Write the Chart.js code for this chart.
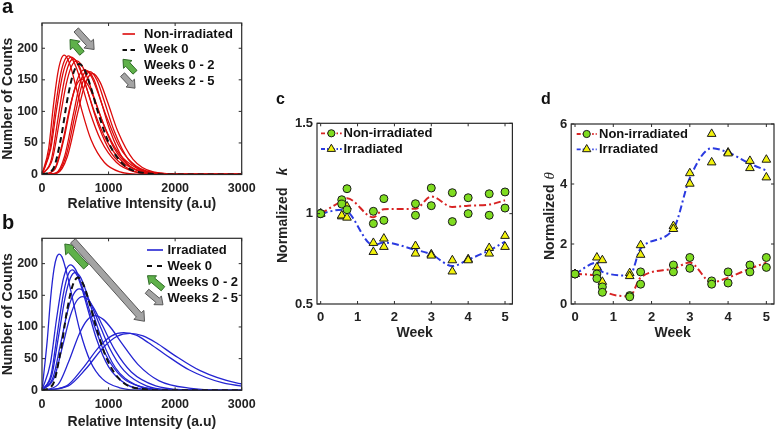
<!DOCTYPE html>
<html>
<head>
<meta charset="utf-8">
<title>Intensity distributions and normalized gamma parameters</title>
<script src="https://cdn.jsdelivr.net/npm/chart.js@4.4.1/dist/chart.umd.min.js"></script>
<style>
  html, body { margin: 0; padding: 0; background: #fff; }
  body { position: relative; width: 780px; height: 432px; overflow: hidden;
         font-family: "Liberation Sans", Arial, sans-serif; }
  canvas { position: absolute; display: block; }
  .tag { position: absolute; font-weight: bold; line-height: 1; color: #111; }
</style>
</head>
<body>
<canvas id="chartA" width="262" height="215" style="left:0;top:0"></canvas>
<canvas id="chartB" width="262" height="217" style="left:0;top:215px"></canvas>
<canvas id="chartC" width="260" height="262" style="left:260px;top:80px"></canvas>
<canvas id="chartD" width="260" height="262" style="left:520px;top:80px"></canvas>
<div class="tag" style="left:2px;top:-4px;font-size:20px">a</div>
<div class="tag" style="left:2px;top:212px;font-size:20px">b</div>
<div class="tag" style="left:276px;top:91px;font-size:16px">c</div>
<div class="tag" style="left:541px;top:91px;font-size:16px">d</div>
<script>
// ---------------------------
// Data
// ---------------------------

// panel a: non-irradiated histograms, [relative intensity, counts]
const nonIrrCurves = [
  [[0,0],[101,42],[168,106],[235,159],[285,182],[335,189],[385,183],[436,169],[503,142],[603,100],[737,55],[938,19],[1173,4],[1508,0],[3000,0]],
  [[0,0],[120,41],[200,105],[280,159],[340,181],[400,188],[460,182],[520,168],[600,142],[720,99],[880,55],[1120,19],[1400,4],[1800,0],[3000,0]],
  [[0,0],[132,41],[220,104],[308,157],[374,179],[440,186],[506,180],[572,166],[660,140],[792,98],[968,54],[1232,18],[1540,4],[1980,0],[3000,0]],
  [[0,0],[141,24],[235,85],[329,146],[400,174],[470,183],[541,176],[611,157],[705,125],[846,78],[1034,35],[1316,8],[1645,1],[2115,0],[3000,0]],
  [[0,0],[156,24],[260,83],[364,143],[442,171],[520,180],[598,173],[676,155],[780,123],[936,77],[1144,35],[1456,8],[1820,1],[2340,0],[3000,0]],
  [[0,0],[180,7],[300,47],[420,107],[510,140],[600,151],[690,142],[780,121],[900,86],[1080,42],[1320,13],[1680,1],[2100,0],[3000,0]],
  [[0,0],[192,8],[320,52],[448,118],[544,154],[640,166],[736,156],[832,132],[960,94],[1152,46],[1408,14],[1792,2],[2240,0],[3000,0]],
  [[0,0],[204,2],[340,29],[476,98],[578,147],[680,164],[782,150],[884,117],[1020,70],[1224,24],[1496,4],[1904,0],[3000,0]],
  [[0,0],[216,2],[360,29],[504,98],[612,146],[720,163],[828,149],[936,116],[1080,70],[1296,24],[1584,4],[2016,0],[3000,0]],
  [[0,0],[228,2],[380,28],[532,96],[646,143],[760,160],[874,146],[988,114],[1140,68],[1368,24],[1672,4],[2128,0],[3000,0]]
];
const nonIrrWeek0 = [[0,0],[168,9],[280,55],[392,125],[476,162],[560,175],[644,165],[728,140],[840,99],[1008,49],[1232,15],[1568,2],[1960,0],[3000,0]];

// panel b: irradiated histograms
const irrCurves = [
  [[0,0],[78,78],[130,146],[181,192],[220,210],[259,215],[298,211],[337,199],[389,178],[466,141],[570,94],[725,46],[907,18],[1166,4],[1550,0],[3000,0]],
  [[0,0],[129,44],[216,111],[302,167],[366,191],[431,198],[496,192],[560,177],[647,149],[776,105],[948,58],[1207,20],[1509,5],[1940,0],[3000,0]],
  [[0,0],[137,25],[228,88],[319,151],[387,181],[455,190],[523,182],[592,163],[683,130],[819,81],[1001,37],[1274,9],[1593,1],[2048,0],[3000,0]],
  [[0,0],[150,25],[250,86],[350,148],[425,177],[500,186],[575,179],[650,160],[750,127],[900,80],[1100,36],[1400,9],[1750,1],[2250,0],[3000,0]],
  [[0,0],[168,21],[280,74],[392,128],[476,152],[560,160],[644,154],[728,138],[840,110],[1008,68],[1232,31],[1568,7],[1960,1],[2520,0],[3000,0]],
  [[0,0],[183,20],[305,68],[427,118],[519,141],[610,148],[702,142],[793,127],[915,101],[1098,63],[1342,29],[1708,7],[2135,1],[2745,0],[3000,0]],
  [[0,0],[240,9],[400,45],[560,89],[680,111],[800,118],[920,112],[1040,98],[1200,74],[1440,41],[1760,15],[2240,3],[2800,0],[3000,0]],
  [[0,0],[369,7],[615,35],[861,69],[1046,86],[1230,91],[1415,87],[1599,75],[1845,57],[2214,32],[2706,12],[3444,2]],
  [[0,0],[396,7],[660,34],[924,68],[1122,85],[1320,90],[1518,86],[1716,75],[1980,56],[2376,31],[2904,12],[3696,2]]
];
const irrWeek0 = [[0,0],[162,9],[270,56],[378,127],[459,165],[540,178],[621,167],[702,142],[810,101],[972,50],[1188,15],[1512,2],[1890,0],[3000,0]];

// panels c, d: two samples per time point plus the fitted trend
const weeks = [0, 0.571, 0.714, 1.429, 1.714, 2.571, 3, 3.571, 4, 4.571, 5];

const kNonA  = [1.0, 1.077, 1.138, 1.013, 1.083, 1.055, 1.142, 1.116, 1.088, 1.110, 1.120];
const kNonB  = [1.0, 1.053, 1.022, 0.945, 0.963, 0.991, 1.044, 0.956, 1.000, 0.991, 1.031];
const kIrrA  = [1.0, 0.985, 1.040, 0.838, 0.862, 0.821, 0.775, 0.742, 0.748, 0.810, 0.877];
const kIrrB  = [1.0, 0.990, 0.978, 0.788, 0.816, 0.779, 0.768, 0.680, 0.742, 0.779, 0.816];
const kNonTrend = [1.0, 1.07, 1.085, 0.98, 1.025, 1.027, 1.095, 1.037, 1.044, 1.05, 1.074];
const kIrrTrend = [1.0, 1.022, 1.015, 0.825, 0.84, 0.80, 0.775, 0.71, 0.745, 0.797, 0.845];

const thNonA = [1.0, 1.00, 0.57, 0.28, 1.07, 1.30, 1.55, 0.77, 1.07, 1.30, 1.55];
const thNonB = [1.0, 0.85, 0.39, 0.24, 0.66, 1.07, 1.19, 0.66, 0.70, 1.07, 1.22];
const thIrrA = [1.0, 1.55, 1.46, 1.03, 1.96, 2.60, 4.36, 5.67, 5.05, 4.77, 4.81];
const thIrrB = [1.0, 1.22, 0.74, 0.93, 1.64, 2.50, 4.01, 4.72, 5.02, 4.53, 4.22];
const thNonTrend = [1.0, 0.93, 0.48, 0.26, 0.88, 1.18, 1.38, 0.72, 0.88, 1.18, 1.38];
const thIrrTrend = [1.0, 1.38, 1.07, 0.95, 1.85, 2.50, 4.20, 5.19, 5.05, 4.68, 4.45];

// tick values
const intensityTicks = [0, 1000, 2000, 3000];
const countTicks = [0, 50, 100, 150, 200];
const weekTicks = [0, 1, 2, 3, 4, 5];
const kTicks = [0.5, 1, 1.5];
const thetaTicks = [0, 2, 4, 6];

// ---------------------------
// Styling
// ---------------------------
const FONT = '"Liberation Sans", Arial, Helvetica, sans-serif';
const INK = '#222222';
const RED = '#dc0a0a';
const BLUE = '#2424d2';
const TREND_RED = '#d82424';
const TREND_BLUE = '#2a3ae0';
const DOT_GREEN = '#7fdc20';
const TRI_YELLOW = '#f2f20c';
const GREEN_FILL = '#5fb14a', GREEN_EDGE = '#2f6b27';
const GRAY_FILL = '#a4a4a4', GRAY_EDGE = '#585858';
const DASH_DOT = [7, 3, 2, 3];

Chart.defaults.font.family = FONT;
Chart.defaults.color = INK;

// block arrow (shaft + triangular head)
function blockArrow(ctx, x1, y1, x2, y2, shaft, headW, headL, fill, stroke) {
  const dx = x2 - x1, dy = y2 - y1, len = Math.hypot(dx, dy);
  const ux = dx / len, uy = dy / len, nx = -uy, ny = ux;
  const bx = x2 - ux * headL, by = y2 - uy * headL;
  const s = shaft / 2, h = headW / 2;
  ctx.beginPath();
  ctx.moveTo(x1 + nx * s, y1 + ny * s);
  ctx.lineTo(bx + nx * s, by + ny * s);
  ctx.lineTo(bx + nx * h, by + ny * h);
  ctx.lineTo(x2, y2);
  ctx.lineTo(bx - nx * h, by - ny * h);
  ctx.lineTo(bx - nx * s, by - ny * s);
  ctx.lineTo(x1 - nx * s, y1 - ny * s);
  ctx.closePath();
  ctx.setLineDash([]);
  ctx.fillStyle = fill;
  ctx.fill();
  ctx.strokeStyle = stroke;
  ctx.lineWidth = 1;
  ctx.stroke();
}

function marker(ctx, kind, x, y) {
  ctx.setLineDash([]);
  ctx.lineWidth = 1;
  ctx.strokeStyle = '#1a1a1a';
  ctx.beginPath();
  if (kind === 'circle') {
    ctx.fillStyle = DOT_GREEN;
    ctx.arc(x, y, 3.6, 0, Math.PI * 2);
  } else {
    ctx.fillStyle = TRI_YELLOW;
    const r = 4.8;
    ctx.moveTo(x, y - r);
    ctx.lineTo(x + r * 0.866, y + r * 0.5);
    ctx.lineTo(x - r * 0.866, y + r * 0.5);
    ctx.closePath();
  }
  ctx.fill();
  ctx.stroke();
}

// box, inward ticks, legend, arrows, custom y title
const panelExtras = {
  id: 'panelExtras',
  afterDatasetsDraw(chart, args, opts) {
    const { ctx, chartArea: ca, scales } = chart;
    const xs = scales.x, ys = scales.y;
    ctx.save();

    (opts.arrows || []).forEach(a => {
      blockArrow(ctx,
        xs.getPixelForValue(a.from[0]), ys.getPixelForValue(a.from[1]),
        xs.getPixelForValue(a.to[0]), ys.getPixelForValue(a.to[1]),
        a.shaft, a.head, a.headLen, a.fill, a.stroke);
    });

    // frame + ticks pointing inward (matlab style)
    ctx.setLineDash([]);
    ctx.strokeStyle = '#2a2a2a';
    ctx.lineWidth = 1.2;
    ctx.strokeRect(ca.left, ca.top, ca.right - ca.left, ca.bottom - ca.top);
    ctx.lineWidth = 1;
    ctx.beginPath();
    xs.ticks.forEach(t => {
      const px = xs.getPixelForValue(t.value);
      ctx.moveTo(px, ca.bottom); ctx.lineTo(px, ca.bottom - 3);
      ctx.moveTo(px, ca.top); ctx.lineTo(px, ca.top + 3);
    });
    ys.ticks.forEach(t => {
      const py = ys.getPixelForValue(t.value);
      ctx.moveTo(ca.left, py); ctx.lineTo(ca.left + 3, py);
      ctx.moveTo(ca.right, py); ctx.lineTo(ca.right - 3, py);
    });
    ctx.stroke();

    const lg = opts.legend;
    if (lg) {
      lg.items.forEach((it, i) => {
        const y = lg.y0 + i * lg.dy;
        if (it.kind === 'line' || it.kind === 'marker') {
          ctx.beginPath();
          ctx.setLineDash(it.dash || []);
          ctx.strokeStyle = it.color;
          ctx.lineWidth = it.width;
          ctx.moveTo(lg.x0, y);
          ctx.lineTo(lg.x1, y);
          ctx.stroke();
          if (it.kind === 'marker') marker(ctx, it.marker, (lg.x0 + lg.x1) / 2, y);
        } else if (it.kind === 'arrowUp') {
          blockArrow(ctx, lg.x1, y + 6.5, lg.x0 + 0.5, y - 6.5, 5.5, 11.5, 7, GREEN_FILL, GREEN_EDGE);
        } else if (it.kind === 'arrowDown') {
          blockArrow(ctx, lg.x0, y - 7, lg.x1, y + 6.5, 5.5, 11.5, 7, GRAY_FILL, GRAY_EDGE);
        }
        ctx.setLineDash([]);
        ctx.fillStyle = '#111';
        ctx.font = lg.font;
        ctx.textAlign = 'left';
        ctx.textBaseline = 'middle';
        ctx.fillText(it.label, lg.textX, y);
      });
    }

    const yt = opts.yTitle;
    if (yt) {
      ctx.translate(yt.x, yt.bottom);
      ctx.rotate(-Math.PI / 2);
      ctx.fillStyle = INK;
      ctx.textAlign = 'left';
      ctx.textBaseline = 'middle';
      ctx.font = 'bold 14px ' + FONT;
      ctx.fillText(yt.text, 0, 0);
      const w = ctx.measureText(yt.text).width;
      ctx.font = yt.symFont;
      ctx.fillText(yt.sym, w + yt.gap, 0);
    }
    ctx.restore();
  }
};

function frameAxis(o) {
  return {
    type: 'linear',
    min: o.min,
    max: o.max,
    afterBuildTicks: s => { s.ticks = o.ticks.map(v => ({ value: v })); },
    afterFit: s => {
      if (o.width != null) s.width = o.width;
      if (o.height != null) s.height = o.height;
    },
    grid: { display: false, drawTicks: false },
    border: { display: false },
    ticks: {
      color: INK,
      font: { size: o.tickSize, weight: 'bold' },
      padding: o.tickPad,
      maxRotation: 0,
      autoSkip: false,
      callback: v => String(v)
    },
    title: o.title
      ? { display: true, text: o.title, color: INK, font: { size: 14, weight: 'bold' },
          padding: { top: o.titlePad, bottom: o.titlePad } }
      : { display: false }
  };
}

function curveSets(curves, color) {
  return curves.map(c => ({
    data: c.map(p => ({ x: p[0], y: p[1] })),
    borderColor: color,
    borderWidth: 1.3,
    pointRadius: 0,
    cubicInterpolationMode: 'monotone',
    fill: false,
    order: 1
  }));
}

function week0Set(curve) {
  return {
    data: curve.map(p => ({ x: p[0], y: p[1] })),
    borderColor: '#111',
    borderWidth: 2,
    borderDash: [6, 4],
    pointRadius: 0,
    cubicInterpolationMode: 'monotone',
    fill: false,
    order: 0
  };
}

function distChart(id, curves, week0, color, label, geom, arrows, legend) {
  new Chart(document.getElementById(id), {
    type: 'line',
    data: { datasets: [...curveSets(curves, color), week0Set(week0)] },
    options: {
      responsive: false,
      animation: false,
      events: [],
      layout: { padding: { top: geom.top, right: geom.right, left: 0, bottom: 0 } },
      plugins: {
        legend: { display: false },
        tooltip: { enabled: false },
        panelExtras: {
          arrows: arrows,
          legend: Object.assign({
            font: 'bold 13px ' + FONT,
            items: [
              { kind: 'line', color: color, width: 1.6, label: label },
              { kind: 'line', color: '#111', width: 2, dash: geom.legendDash, label: 'Week 0' },
              { kind: 'arrowUp', label: 'Weeks 0 - 2' },
              { kind: 'arrowDown', label: 'Weeks 2 - 5' }
            ]
          }, legend)
        }
      },
      scales: {
        x: frameAxis({ min: 0, max: 3000, ticks: intensityTicks, height: geom.xHeight, tickSize: 12.5,
                       tickPad: 6.4, title: 'Relative Intensity (a.u)', titlePad: geom.titlePad }),
        y: frameAxis({ min: 0, max: 240, ticks: countTicks, width: 42, tickSize: 12.5, tickPad: 4,
                       title: 'Number of Counts', titlePad: 0 })
      }
    },
    plugins: [panelExtras]
  });
}

function pairs(a, b) {
  return weeks.flatMap((w, i) => [{ x: w, y: a[i] }, { x: w, y: b[i] }]);
}

function trendSet(vals, color) {
  return {
    type: 'line',
    data: weeks.map((w, i) => ({ x: w, y: vals[i] })),
    borderColor: color,
    borderWidth: 2,
    borderDash: DASH_DOT,
    pointRadius: 0,
    showLine: true,
    cubicInterpolationMode: 'monotone',
    fill: false,
    order: 3
  };
}

function paramChart(id, nonA, nonB, irrA, irrB, nonTrend, irrTrend, yAxis, geom, yTitle, legend) {
  new Chart(document.getElementById(id), {
    type: 'scatter',
    data: {
      datasets: [
        { data: pairs(nonA, nonB), pointStyle: 'circle', pointRadius: 4, backgroundColor: DOT_GREEN,
          borderColor: '#1a1a1a', borderWidth: 1, order: 0 },
        { data: pairs(irrA, irrB), pointStyle: 'triangle', pointRadius: 5, backgroundColor: TRI_YELLOW,
          borderColor: '#1a1a1a', borderWidth: 1, order: 1 },
        trendSet(nonTrend, TREND_RED),
        trendSet(irrTrend, TREND_BLUE)
      ]
    },
    options: {
      responsive: false,
      animation: false,
      events: [],
      layout: { padding: { top: geom.top, right: geom.right, left: 0, bottom: 0 } },
      plugins: {
        legend: { display: false },
        tooltip: { enabled: false },
        panelExtras: {
          yTitle: yTitle,
          legend: Object.assign({
            font: 'bold 13px ' + FONT,
            items: [
              { kind: 'marker', marker: 'circle', color: TREND_RED, width: 1.8, dash: [4, 2, 1.5, 2], label: 'Non-irradiated' },
              { kind: 'marker', marker: 'triangle', color: TREND_BLUE, width: 1.8, dash: [4, 2, 1.5, 2], label: 'Irradiated' }
            ]
          }, legend)
        }
      },
      scales: {
        x: frameAxis({ min: -0.1, max: 5.2, ticks: weekTicks, height: 38, tickSize: 13, tickPad: 5.4,
                       title: 'Week', titlePad: 0.6 }),
        y: frameAxis({ ticks: yAxis.ticks, min: yAxis.min, max: yAxis.max, width: geom.yWidth,
                       tickSize: 13, tickPad: 4 })
      }
    },
    plugins: [panelExtras]
  });
}

// ---------------------------
// Build the four panels
// ---------------------------
distChart('chartA', nonIrrCurves, nonIrrWeek0, RED, 'Non-irradiated',
  { top: 23, right: 14.7, xHeight: 40.5, titlePad: 2.6, legendDash: [4.5, 3.5] },
  [
    { from: [600, 192], to: [421, 214], shaft: 6, head: 13, headLen: 8, fill: GREEN_FILL, stroke: GREEN_EDGE },
    { from: [514, 229], to: [783, 198], shaft: 6, head: 13, headLen: 8, fill: GRAY_FILL, stroke: GRAY_EDGE }
  ],
  { x0: 122.5, x1: 135, textX: 144, y0: 34, dy: 15.9 });

distChart('chartB', irrCurves, irrWeek0, BLUE, 'Irradiated',
  { top: 23.3, right: 14.7, xHeight: 41.7, titlePad: 1.9, legendDash: [5, 5] },
  [
    { from: [661, 195], to: [343, 231], shaft: 6.5, head: 13.5, headLen: 8.5, fill: GREEN_FILL, stroke: GREEN_EDGE },
    { from: [465, 236], to: [1540, 109], shaft: 6.5, head: 13.5, headLen: 8.5, fill: GRAY_FILL, stroke: GRAY_EDGE }
  ],
  { x0: 147, x1: 163, textX: 167.5, y0: 35, dy: 16.1 });

paramChart('chartC', kNonA, kNonB, kIrrA, kIrrB, kNonTrend, kIrrTrend,
  { min: 0.5, max: 1.5, ticks: kTicks },
  { top: 43.3, right: 7.6, yWidth: 57 },
  { x: 23, bottom: 183, text: 'Normalized', sym: 'k', symFont: 'italic bold 14px ' + FONT, gap: 12 },
  { x0: 61, x1: 81.7, textX: 83.5, y0: 53.3, dy: 15.7 });

paramChart('chartD', thNonA, thNonB, thIrrA, thIrrB, thNonTrend, thIrrTrend,
  { min: 0, max: 6, ticks: thetaTicks },
  { top: 44, right: 5, yWidth: 51.2 },
  { x: 30, bottom: 180, text: 'Normalized', sym: 'θ', symFont: 'italic 15px "Liberation Serif", "DejaVu Serif", serif', gap: 5 },
  { x0: 56.7, x1: 76.7, textX: 79, y0: 54, dy: 15.3 });
</script>
</body>
</html>
